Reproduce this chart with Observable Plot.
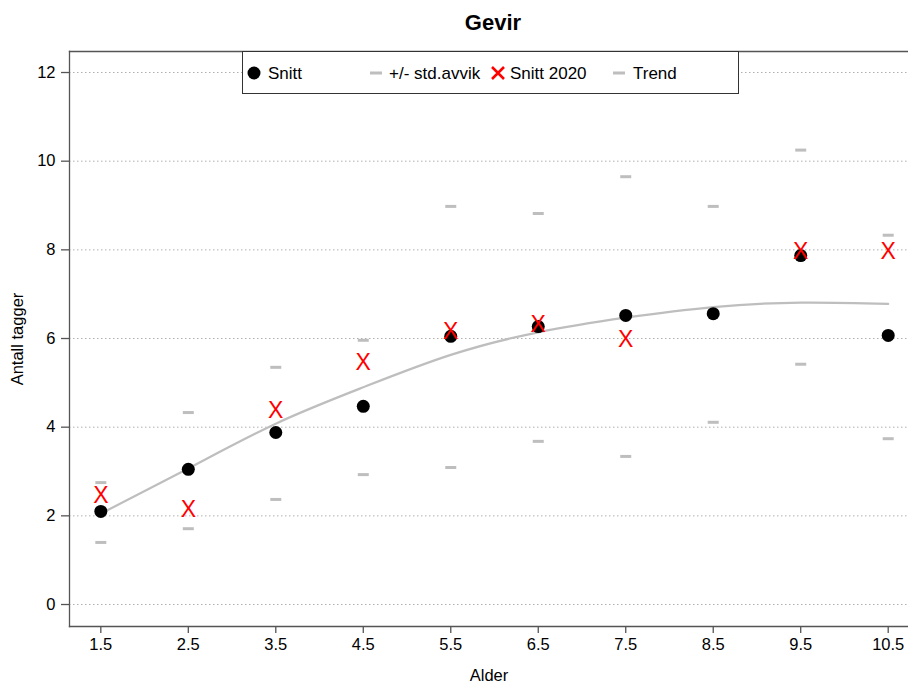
<!DOCTYPE html>
<html>
<head>
<meta charset="utf-8">
<script src="https://cdn.jsdelivr.net/npm/d3@7"></script>
<script src="https://cdn.jsdelivr.net/npm/@observablehq/plot@0.6"></script>
<style>
  body { margin: 0; background: #fff; font-family: "Liberation Sans", Arial, sans-serif; }
  #wrap { position: relative; width: 908px; height: 682px; }
  #title { height: 40px; width: 908px; position: relative; }
  #title span { position: absolute; left: 0; width: 986px; text-align: center; top: 10px; font-weight: bold; font-size: 22px; color: #000; }
  #legend { position: absolute; left: 242px; top: 51px; width: 495px; height: 41px; border: 1px solid #333; background: #fff; }
  #legend .item { position: absolute; top: 0; height: 41px; line-height: 43px; font-size: 17px; color: #000; white-space: nowrap; }
  #legend svg { position: absolute; }
</style>
</head>
<body>
<div id="wrap">
  <div id="title"><span>Gevir</span></div>
  <div id="chart"></div>
  <div id="legend"></div>
</div>
<script>
// ---- data ----
const ages = [1.5, 2.5, 3.5, 4.5, 5.5, 6.5, 7.5, 8.5, 9.5, 10.5];
const snitt = [2.10, 3.05, 3.88, 4.47, 6.05, 6.27, 6.52, 6.56, 7.87, 6.07];
const stdUpper = [2.75, 4.33, 5.35, 5.96, 8.98, 8.82, 9.65, 8.98, 10.25, 8.33];
const stdLower = [1.40, 1.71, 2.37, 2.93, 3.09, 3.68, 3.34, 4.11, 5.42, 3.74];
const snitt2020 = [2.46, 2.14, 4.38, 5.46, 6.16, 6.32, 5.98, null, 7.96, 7.96];
const trend = [2.05, 3.07, 4.08, 4.90, 5.63, 6.14, 6.47, 6.71, 6.81, 6.78];
const yTicks = [0, 2, 4, 6, 8, 10, 12];
const legendLabels = ["Snitt", "+/- std.avvik", "Snitt 2020", "Trend"];

// ---- tables ----
const meanRows = ages.map((a, i) => ({age: a, v: snitt[i]}));
const stdRows = ages.flatMap((a, i) => [{age: a, v: stdUpper[i]}, {age: a, v: stdLower[i]}]);
const rows2020 = ages.map((a, i) => ({age: a, v: snitt2020[i]})).filter(d => d.v != null);
const trendRows = ages.map((a, i) => ({age: a, v: trend[i]}));

const dashSymbol = { draw(ctx) { ctx.rect(-5.5, -1.5, 11, 3); } };
const grey = "#bebebe";
const font = '"Liberation Sans", Arial, sans-serif';

const chart = Plot.plot({
  width: 908,
  height: 642,
  marginTop: 11,
  marginBottom: 56,
  marginLeft: 69,
  marginRight: 0,
  style: { fontFamily: font, fontSize: "16px", color: "#000", background: "#fff" },
  x: { domain: [1.142, 10.732] },
  y: { domain: [-0.496, 12.474] },
  marks: [
    Plot.gridY(yTicks, { stroke: "#b0b0b0", strokeOpacity: 1, strokeDasharray: "1.5,2.5" }),
    Plot.frame({ anchor: "left", stroke: "#555", strokeWidth: 1.3 }),
    Plot.frame({ anchor: "top", stroke: "#555", strokeWidth: 1.3 }),
    Plot.frame({ anchor: "bottom", stroke: "#555", strokeWidth: 1.3 }),
    Plot.axisX({ ticks: ages, tickFormat: d => d.toFixed(1), tickSize: 7, tickPadding: 5, stroke: "#555", strokeWidth: 1.3,
                 label: "Alder", labelAnchor: "center", labelArrow: "none", labelOffset: 54, fontSize: 16.5 }),
    Plot.axisY({ ticks: yTicks, tickSize: 8, tickPadding: 6, stroke: "#555", strokeWidth: 1.3,
                 label: "Antall tagger", labelAnchor: "center", labelArrow: "none", labelOffset: 58, fontSize: 16.5 }),
    Plot.line(trendRows, { x: "age", y: "v", stroke: grey, strokeWidth: 2.2, curve: "natural" }),
    Plot.dot(stdRows, { x: "age", y: "v", symbol: dashSymbol, fill: grey, stroke: "none" }),
    Plot.dot(meanRows, { x: "age", y: "v", r: 6.5, fill: "#000", stroke: "none" }),
    Plot.text(rows2020, { x: "age", y: "v", text: () => "X", fill: "#ff0000", fontSize: 23, fontFamily: font, lineAnchor: "middle" })
  ]
});
document.getElementById("chart").appendChild(chart);

// ---- legend ----
const legend = document.getElementById("legend");
const itemDefs = [
  { label: legendLabels[0], sx: 11, tx: 25, kind: "dot" },
  { label: legendLabels[1], sx: 133, tx: 146, kind: "dash" },
  { label: legendLabels[2], sx: 255, tx: 267, kind: "x" },
  { label: legendLabels[3], sx: 376, tx: 390, kind: "dash" }
];
for (const d of itemDefs) {
  const s = document.createElementNS("http://www.w3.org/2000/svg", "svg");
  s.setAttribute("width", 16); s.setAttribute("height", 16);
  s.style.left = (d.sx - 8) + "px"; s.style.top = (21 - 8) + "px";
  if (d.kind === "dot") s.innerHTML = '<circle cx="8" cy="8" r="6.5" fill="#000"/>';
  else if (d.kind === "dash") s.innerHTML = '<rect x="2" y="6.5" width="12" height="3" fill="' + grey + '"/>';
  else s.innerHTML = '<path d="M2,2L14,14M14,2L2,14" stroke="#ff0000" stroke-width="2.6"/>';
  legend.appendChild(s);
  const t = document.createElement("div");
  t.className = "item"; t.style.left = d.tx + "px"; t.textContent = d.label;
  legend.appendChild(t);
}
</script>
</body>
</html>
